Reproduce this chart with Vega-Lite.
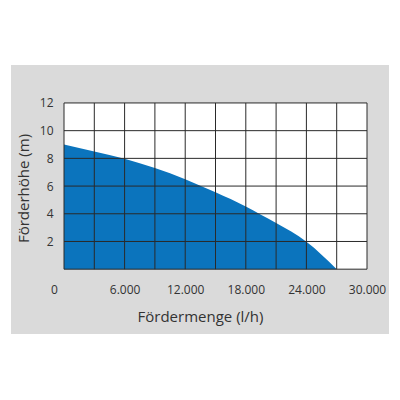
{
  "$schema": "https://vega.github.io/schema/vega-lite/v6.json",
  "width": 378,
  "height": 269,
  "autosize": {"type": "none"},
  "padding": {"left": 11, "top": 65, "right": 11, "bottom": 66},
  "background": "white",
  "datasets": {
    "plot": [{"x0": 0, "x1": 30000, "y0": 0, "y1": 12}],
    "curve": [
      {"menge": 0, "hoehe": 9.0},
      {"menge": 3000, "hoehe": 8.5},
      {"menge": 6000, "hoehe": 7.97},
      {"menge": 9000, "hoehe": 7.3},
      {"menge": 12000, "hoehe": 6.5},
      {"menge": 15000, "hoehe": 5.55},
      {"menge": 18000, "hoehe": 4.53},
      {"menge": 21000, "hoehe": 3.33},
      {"menge": 24000, "hoehe": 1.98},
      {"menge": 27000, "hoehe": 0}
    ],
    "vgrid": [
      {"x": 0}, {"x": 3000}, {"x": 6000}, {"x": 9000}, {"x": 12000}, {"x": 15000},
      {"x": 18000}, {"x": 21000}, {"x": 24000}, {"x": 27000}, {"x": 30000}
    ],
    "hgrid": [
      {"y": 0}, {"y": 2}, {"y": 4}, {"y": 6}, {"y": 8}, {"y": 10}, {"y": 12}
    ]
  },
  "layer": [
    {
      "data": {"name": "plot"},
      "mark": {"type": "rect", "fill": "white"},
      "encoding": {
        "x": {
          "field": "x0", "type": "quantitative",
          "scale": {"domain": [-5248, 32178], "nice": false, "zero": false},
          "axis": {
            "values": [0, 6000, 12000, 18000, 24000, 30000],
            "labelExpr": "replace(format(datum.value, ',.0f'), ',', '.')",
            "offset": -64.5,
            "domain": false, "ticks": false, "grid": false,
            "labelPadding": 15,
            "labelFontSize": 12,
            "labelColor": "#333",
            "labelOffset": {"condition": {"test": "datum.value == 0", "value": -10}, "value": 0},
            "title": "Fördermenge (l/h)",
            "titleFontSize": 15,
            "titleFontWeight": "normal",
            "titleColor": "#333",
            "titlePadding": 14
          }
        },
        "x2": {"field": "x1"},
        "y": {
          "field": "y0", "type": "quantitative",
          "scale": {"domain": [-4.68, 14.74], "nice": false, "zero": false},
          "axis": {
            "values": [2, 4, 6, 8, 10, 12],
            "offset": -53,
            "domain": false, "ticks": false, "grid": false,
            "labelPadding": 11,
            "labelFontSize": 12,
            "labelColor": "#333",
            "title": "Förderhöhe (m)",
            "titleFontSize": 15,
            "titleFontWeight": "normal",
            "titleColor": "#333",
            "titlePadding": 8,
            "titleY": 123
          }
        },
        "y2": {"field": "y1"}
      }
    },
    {
      "data": {"name": "curve"},
      "mark": {"type": "area", "color": "#0b74bd", "interpolate": "natural"},
      "encoding": {
        "x": {"field": "menge", "type": "quantitative", "scale": {"domain": [-5248, 32178], "nice": false, "zero": false}},
        "y": {"field": "hoehe", "type": "quantitative", "stack": null, "scale": {"domain": [-4.68, 14.74], "nice": false, "zero": false}},
        "y2": {"datum": 0}
      }
    },
    {
      "data": {"name": "vgrid"},
      "mark": {"type": "rule", "color": "#2a2a2a", "strokeWidth": 1},
      "encoding": {
        "x": {"field": "x", "type": "quantitative", "scale": {"domain": [-5248, 32178], "nice": false, "zero": false}},
        "y": {"datum": 0, "type": "quantitative", "scale": {"domain": [-4.68, 14.74], "nice": false, "zero": false}},
        "y2": {"datum": 12}
      }
    },
    {
      "data": {"name": "hgrid"},
      "mark": {"type": "rule", "color": "#2a2a2a", "strokeWidth": 1},
      "encoding": {
        "y": {"field": "y", "type": "quantitative", "scale": {"domain": [-4.68, 14.74], "nice": false, "zero": false}},
        "x": {"datum": 0, "type": "quantitative", "scale": {"domain": [-5248, 32178], "nice": false, "zero": false}},
        "x2": {"datum": 30000}
      }
    }
  ],
  "config": {
    "font": "Open Sans",
    "view": {"fill": "#dadada", "stroke": null}
  }
}
